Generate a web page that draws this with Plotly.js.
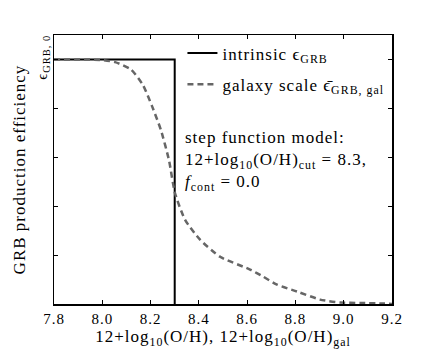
<!DOCTYPE html>
<html>
<head>
<meta charset="utf-8">
<script src="https://cdn.plot.ly/plotly-3.0.1.min.js"></script>
<style>
  html, body { margin: 0; padding: 0; background: #fff; }
  /* widen the serif a bit, the original font runs wider (global so plotly's text tester sees it too) */
  text { letter-spacing: 1px; }
</style>
</head>
<body>
<div id="plot" style="width:436px;height:349px;"></div>
<script>
// intrinsic step function
const stepX = [7.8, 8.3, 8.3];
const stepY = [1.0, 1.0, 0.0];

// galaxy-scale averaged efficiency
const galX = [7.8, 7.99, 8.053, 8.119, 8.169, 8.206, 8.243, 8.276, 8.301, 8.343,
  8.405, 8.488, 8.612, 8.666, 8.724, 8.807, 8.902, 8.985, 9.068, 9.163, 9.2];
const galY = [1.0, 0.998, 0.989, 0.959, 0.894, 0.809, 0.711, 0.589, 0.454, 0.344,
  0.263, 0.193, 0.141, 0.112, 0.079, 0.051, 0.018, 0.006, 0.004, 0.002, 0.0];

const xTicks = [7.8, 8.0, 8.2, 8.4, 8.6, 8.8, 9.0, 9.2];
const xTickText = ['7.8', '8.0', '8.2', '8.4', '8.6', '8.8', '9.0', '9.2'];
const yTicks = [0, 0.2, 0.4, 0.6, 0.8, 1.0];
const yTickText = ['', '', '', '', '', 'ϵ<sub>GRB, 0</sub>'];

const serif = 'Liberation Serif';

const traces = [
  {
    x: stepX, y: stepY,
    name: 'intrinsic ϵ<sub>GRB</sub>',
    legendgroup: 'a',
    mode: 'lines',
    line: { color: '#000', width: 2 },
  },
  {
    x: galX, y: galY,
    name: 'galaxy scale ϵ̄<sub>GRB, gal</sub>',
    legendgroup: 'b',
    mode: 'lines',
    line: { color: '#666', width: 2.5, dash: '6px,4px', shape: 'spline', smoothing: 0.6 },
  },
];

const axisCommon = {
  showline: true, mirror: 'ticks', linecolor: '#000', linewidth: 1.5,
  ticks: 'inside', ticklen: 4, tickwidth: 1, tickcolor: '#000',
  showgrid: false, zeroline: false,
  tickfont: { family: serif, size: 15, color: '#000' },
};

const layout = {
  width: 436, height: 349,
  margin: { l: 54, r: 44, t: 35, b: 45 },
  paper_bgcolor: '#fff', plot_bgcolor: '#fff',
  font: { family: serif, color: '#000' },
  showlegend: true,
  legend: {
    x: 0.38, y: 0.998, xanchor: 'left', yanchor: 'top',
    bgcolor: 'rgba(0,0,0,0)', borderwidth: 0,
    font: { family: serif, size: 17, color: '#000' },
    tracegroupgap: 6,
  },
  xaxis: Object.assign({}, axisCommon, {
    range: [7.8, 9.2],
    tickvals: xTicks, ticktext: xTickText,
    title: { text: '12+log<sub>10</sub>(O/H), 12+log<sub>10</sub>(O/H)<sub>gal</sub>',
      font: { family: serif, size: 17, color: '#000' }, standoff: 6 },
  }),
  yaxis: Object.assign({}, axisCommon, {
    range: [0, 1.1],
    tickvals: yTicks, ticktext: yTickText, tickangle: -90,
    title: { text: 'GRB production efficiency',
      font: { family: serif, size: 17, color: '#000' }, standoff: 3 },
  }),
  annotations: [
    {
      xref: 'x', yref: 'y', x: 8.335, y: 0.585,
      xanchor: 'left', yanchor: 'middle', align: 'left',
      showarrow: false,
      text: 'step function model:<br>12+log<sub>10</sub>(O/H)<sub>cut</sub> = 8.3,<br><i>f</i><sub>cont</sub> = 0.0',
      font: { family: serif, size: 17, color: '#000' },
    },
  ],
};

Plotly.newPlot('plot', traces, layout, { displayModeBar: false, staticPlot: true });
</script>
</body>
</html>
